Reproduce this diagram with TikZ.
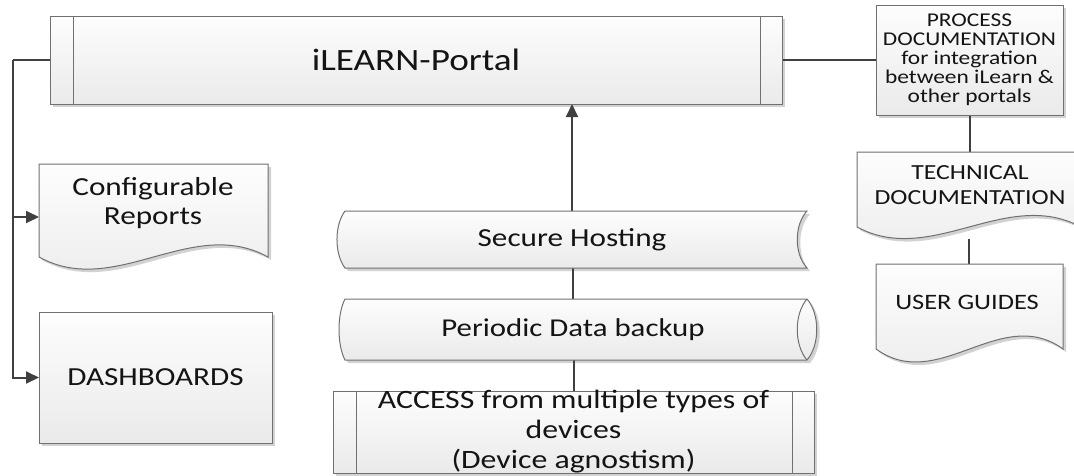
\documentclass[tikz,border=0pt]{standalone}
\usepackage{fontspec}
\setmainfont{Carlito}[FakeStretch=1.2]
\usetikzlibrary{arrows.meta,calc}

\definecolor{edge}{HTML}{707070}
\definecolor{wire}{HTML}{404040}
\definecolor{shadowgray}{HTML}{D2D2D2}
\definecolor{fillTop}{HTML}{FDFDFD}
\definecolor{fillBot}{HTML}{EAEAEA}
\definecolor{ink}{HTML}{141414}

\pgfdeclarelayer{shadowlayer}
\pgfdeclarelayer{wirelayer}
\pgfsetlayers{shadowlayer,wirelayer,main}

% a filled outline with a soft offset shadow beneath it
\newcommand\solid[1]{%
  \begin{pgfonlayer}{shadowlayer}\fill[shadowgray, shift={(3,3)}] #1;\end{pgfonlayer}
  \path[body] #1;}

\tikzset{
  body/.style={draw=edge, line width=1pt, top color=fillTop, bottom color=fillBot},
  divider/.style={draw=edge, line width=1pt},
  holder/.style={inner sep=0pt, outer sep=0pt, draw=none, text=ink, align=center},
  wireline/.style={draw=wire, line width=2pt},
  tip/.style={-{Triangle[length=13pt,width=12pt]}},
  fs/.style 2 args={font=\fontsize{#1}{#2}\selectfont}
}

\begin{document}
\begin{tikzpicture}[x=1pt,y=-1pt]
\useasboundingbox (0,0) rectangle (1074,475);

% ---------- outlines ----------
% portal bar with side strips
\solid{(50,16) rectangle (782,104)}
\draw[divider] (73,16) -- (73,104) (760,16) -- (760,104);

% process documentation box
\solid{(876,5) rectangle (1063,115)}

% technical documentation (document shape)
\solid{(857,152) -- (1081,152) -- (1081,227) .. controls (1006.3,187) and (931.7,267) .. (857,227) -- cycle}

% user guides (document shape)
\solid{(876,264) -- (1063,264) -- (1063,349) .. controls (1000.7,304) and (938.3,394) .. (876,349) -- cycle}

% configurable reports (document shape)
\solid{(39,164) -- (268,164) -- (268,257) .. controls (191.7,215) and (115.3,299) .. (39,257) -- cycle}

% dashboards box
\solid{(39,312) rectangle (272,443)}

% secure hosting (stored data)
\solid{(345,211) -- (807,211) .. controls (794,225) and (794,254) .. (807,268) -- (345,268) .. controls (334.3,254) and (334.3,225) .. (345,211) -- cycle}

% periodic data backup (horizontal cylinder)
\solid{(345,299) -- (807,299) .. controls (820,314) and (820,345) .. (807,360) -- (345,360) .. controls (337,345) and (337,314) .. (345,299) -- cycle}
\draw[divider] (807,299) .. controls (794,314) and (794,345) .. (807,360);

% access box with side strips
\solid{(333,391) rectangle (814,473)}
\draw[divider] (356,391) -- (356,473) (792,391) -- (792,473);

% ---------- nodes ----------
\node[holder, minimum width=732pt, minimum height=88pt, fs={31}{36}] (portal) at (416,60) {iLEARN-Portal};

\node[holder, minimum width=187pt, minimum height=110pt, fs={19.5}{19}] (proc) at (969.5,60)
  {PROCESS\\DOCUMENTATION\\for integration\\between iLearn \&\\other portals};

\node[holder, minimum width=224pt, minimum height=87pt] (tech) at (969,195.5) {};
\node[holder, fs={21.5}{25}] (techT) at (970,185) {TECHNICAL\\DOCUMENTATION};

\node[holder, minimum width=187pt, minimum height=98pt] (guides) at (969.5,313) {};
\node[holder, fs={22}{26}] (guidesT) at (967,302) {USER GUIDES};

\node[holder, minimum width=229pt, minimum height=106pt] (rep) at (153.5,217) {};
\node[holder, fs={26}{29}] (repT) at (153,203) {Configurable\\Reports};

\node[holder, minimum width=233pt, minimum height=131pt, fs={26}{30}] (dash) at (155.5,377.5) {DASHBOARDS};

\node[holder, minimum width=470pt, minimum height=57pt, fs={26}{30}] (secure) at (572,239.5) {Secure Hosting};

\node[holder, minimum width=470pt, minimum height=61pt, fs={25.7}{30}] (backup) at (573,329.5) {Periodic Data backup};

\node[holder, minimum width=481pt, minimum height=82pt, fs={26.5}{30}] (access) at (573.5,432)
  {ACCESS from multiple types of\\devices\\(Device agnostism)};

% ---------- connectors ----------
\begin{pgfonlayer}{wirelayer}
\coordinate (bus) at (13,60);
\draw[wireline] (portal.west) -- (bus);
\draw[wireline, tip] (bus) |- (rep.west);
\draw[wireline, tip] (bus) |- (dash.west);
\draw[wireline] (portal.east) -- (proc.west);
\draw[wireline] (proc.south) -- (proc.south |- tech.north);
\draw[wireline] (tech.south) -- (tech.south |- guides.north);
\draw[wireline, tip] (secure.north) -- (secure.north |- portal.south);
\draw[wireline] (backup.north) -- (backup.north |- secure.south);
\draw[wireline] (access.north) -- (access.north |- backup.south);
\end{pgfonlayer}
\end{tikzpicture}
\end{document}
